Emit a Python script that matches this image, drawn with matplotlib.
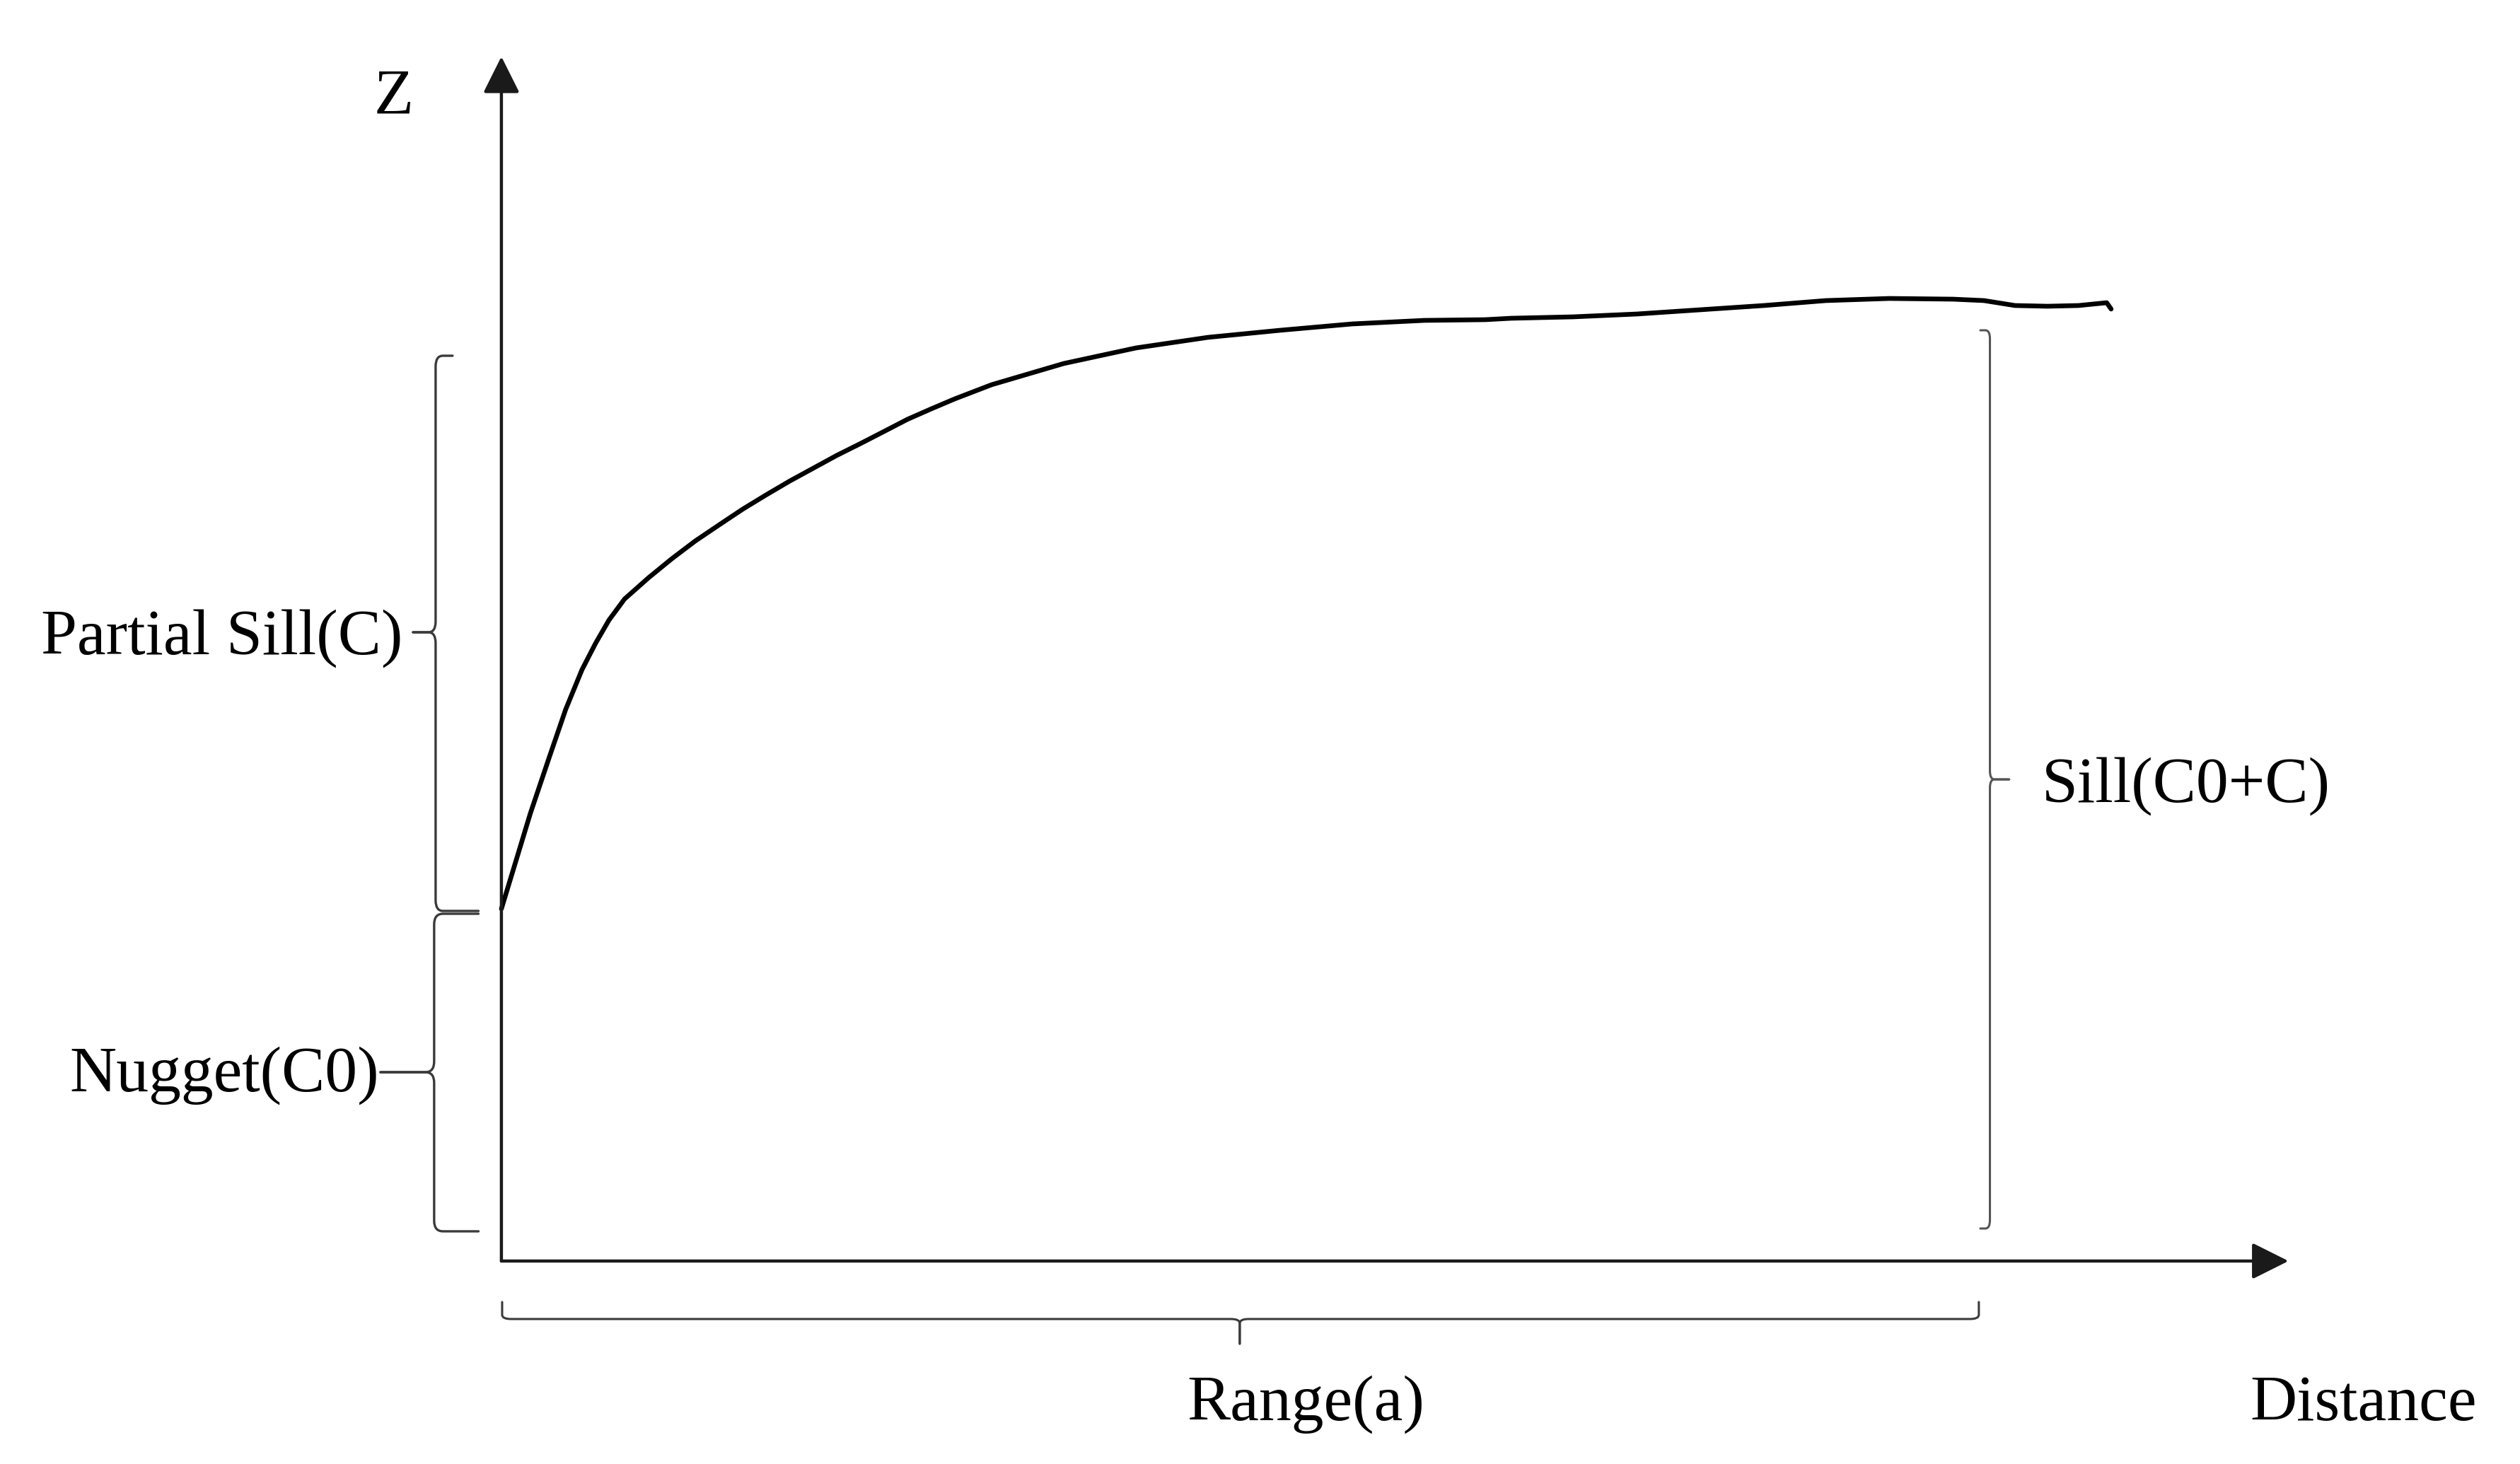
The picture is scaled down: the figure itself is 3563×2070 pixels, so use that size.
import matplotlib
matplotlib.use("Agg")
import matplotlib.pyplot as plt
from matplotlib.path import Path
from matplotlib.patches import PathPatch

plt.rcParams['font.family'] = ['Liberation Serif', 'DejaVu Serif']

# semivariogram curve
distance = [0.00, 0.196, 0.325, 0.435, 0.545, 0.636, 0.727, 0.833, 0.995, 1.153,
            1.311, 1.474, 1.632, 1.789, 1.952, 2.110, 2.268, 2.431, 2.589, 2.746,
            2.909, 3.067, 3.316, 3.804, 4.292, 4.780, 5.268, 5.756, 6.244, 6.656,
            6.83, 7.25, 7.68, 8.11, 8.54, 8.96, 9.39, 9.82, 10.03, 10.24,
            10.46, 10.67, 10.86, 10.89]
z = [4.98, 6.33, 7.13, 7.80, 8.36, 8.73, 9.06, 9.36, 9.66, 9.93,
     10.18, 10.41, 10.63, 10.83, 11.03, 11.21, 11.39, 11.56, 11.73, 11.90,
     12.05, 12.19, 12.39, 12.69, 12.91, 13.06, 13.16, 13.25, 13.30, 13.31,
     13.33, 13.35, 13.39, 13.45, 13.51, 13.58, 13.61, 13.60, 13.58, 13.51,
     13.50, 13.51, 13.55, 13.46]

# bracket extents (low, high)
nugget = (0.42, 4.91)
partial_sill = (4.95, 12.80)
sill = (0.46, 13.16)
range_a = (0.005, 9.995)

x_max, z_max = 12.09, 17.03

labels = ['Z', 'Partial Sill(C)', 'Nugget(C0)', 'Sill(C0+C)', 'Range(a)', 'Distance']

ink = '#1a1a1a'
brace_col = '#3a3a3a'


def brace(ax, pos, lo, hi, mid, arm_lo, arm_hi, tick, r_along, r_across,
          vertical=True, **kw):
    s = 1 if arm_hi > 0 else -1
    pts_top = [(pos + arm_hi, hi), (pos + s * r_across, hi), (pos, hi), (pos, hi - r_along),
               (pos, mid + r_along), (pos, mid), (pos - s * r_across, mid), (pos + tick, mid)]
    pts_bot = [(pos + arm_lo, lo), (pos + s * r_across, lo), (pos, lo), (pos, lo + r_along),
               (pos, mid - r_along), (pos, mid), (pos - s * r_across, mid), (pos + tick, mid)]
    codes = [Path.MOVETO, Path.LINETO, Path.CURVE3, Path.CURVE3,
             Path.LINETO, Path.CURVE3, Path.CURVE3, Path.LINETO]
    for pts in (pts_top, pts_bot):
        if not vertical:
            pts = [(b, a) for a, b in pts]
        ax.add_patch(PathPatch(Path(pts, codes), fill=False, capstyle='round', **kw))


fig = plt.figure(figsize=(35.63, 20.70), dpi=100)
ax = fig.add_axes([0, 0, 1, 1])
ax.set_xlim(-3.392, 13.656)
ax.set_ylim(-2.87, 17.83)
ax.axis('off')

# axes with arrow heads
arrow = dict(arrowstyle='-|>,head_length=0.8,head_width=0.4', mutation_scale=40,
             lw=3.2, color=ink, shrinkA=0, shrinkB=0)
ax.annotate('', xy=(0, z_max), xytext=(0, 0), arrowprops=arrow)
ax.annotate('', xy=(x_max, 0), xytext=(0, 0), arrowprops=arrow)

# curve
ax.plot(distance, z, color='black', lw=4.8, solid_joinstyle='round',
        solid_capstyle='round')

# brackets
brace(ax, -0.445, partial_sill[0], partial_sill[1], 8.89, 0.29, 0.115, -0.153,
      0.15, 0.05, ec=brace_col, lw=2.4)
brace(ax, -0.455, nugget[0], nugget[1], 2.67, 0.30, 0.30, -0.363,
      0.15, 0.06, ec=brace_col, lw=2.4)
brace(ax, 10.07, sill[0], sill[1], 6.81, -0.065, -0.065, 0.13,
      0.12, 0.03, ec='#555555', lw=2.2)
brace(ax, -0.82, range_a[0], range_a[1], 4.995, 0.24, 0.24, -0.35,
      0.06, 0.06, vertical=False, ec=brace_col, lw=2.2)

fs = 66
ax.text(-0.73, 16.23, labels[0], fontsize=fs, ha='center', va='baseline')
ax.text(-0.67, 8.58, labels[1], fontsize=fs, ha='right', va='baseline')
ax.text(-0.828, 2.40, labels[2], fontsize=fs, ha='right', va='baseline')
ax.text(10.42, 6.49, labels[3], fontsize=fs, ha='left', va='baseline')
ax.text(4.64, -2.25, labels[4], fontsize=fs, ha='left', va='baseline')
ax.text(11.83, -2.25, labels[5], fontsize=fs, ha='left', va='baseline')

fig.savefig('out.png', dpi=100, facecolor='white')
